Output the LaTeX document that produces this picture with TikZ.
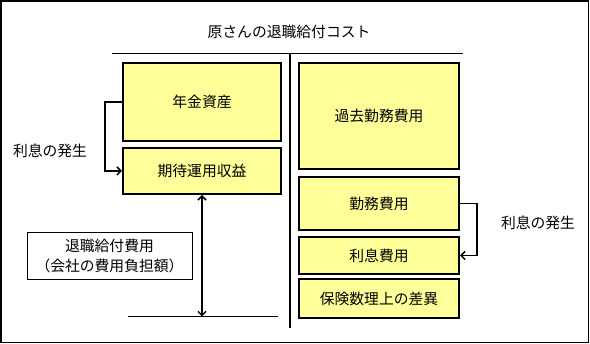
\documentclass[tikz,border=0pt]{standalone}
\usepackage{fontspec}
\setmainfont{Noto Sans CJK JP}
\usetikzlibrary{arrows.meta}
\definecolor{boxyellow}{RGB}{255,255,153}
\tikzset{
  ybox/.style={draw=black, line width=2pt, fill=boxyellow, inner sep=0pt, align=center, font=\fontsize{14.8pt}{20pt}\selectfont},
  lbl/.style={inner sep=0pt, align=center, font=\fontsize{14.8pt}{20pt}\selectfont},
  arr/.style={line width=1.5pt, -{Straight Barb[length=4pt,width=8pt,line width=1.5pt]}},
  darr/.style={line width=1.5pt, {Straight Barb[length=4pt,width=8pt,line width=1.5pt]}-{Straight Barb[length=4pt,width=8pt,line width=1.5pt]}},
}
\begin{document}
\begin{tikzpicture}[x=1pt,y=-1pt]
\useasboundingbox (0,0) rectangle (590,344);
\draw[line width=1.2pt] (1,1) rectangle (588.5,342.5);
\node[lbl] (title) at (289,32) {原さんの退職給付コスト};
% axis lines
\draw[line width=1.8pt] (112,53.5) -- (463,53.5);
\draw[line width=1.8pt] (290,53.5) -- (290,328);
% left boxes
\node[ybox, minimum width=158pt, minimum height=78pt] (nenkin) at (202,102) {年金資産};
\node[ybox, minimum width=158pt, minimum height=46pt] (kitai) at (202,171) {期待運用収益};
% right boxes
\node[ybox, minimum width=160pt, minimum height=106pt] (kako) at (379,116) {過去勤務費用};
\node[ybox, minimum width=160pt, minimum height=53pt] (kinmu) at (379,203.5) {勤務費用};
\node[ybox, minimum width=160pt, minimum height=37pt] (risoku) at (379,255.5) {利息費用};
\node[ybox, minimum width=160pt, minimum height=39pt] (sai) at (379,298.5) {保険数理上の差異};
% label box
\node[lbl, draw=black, line width=0.8pt, minimum width=165pt, minimum height=47pt] (hiyou) at (109.5,255.5) {退職給付費用\\（会社の費用負担額）};
% interest labels
\node[lbl] (rl) at (50,151) {利息の発生};
\node[lbl] (rr) at (538,223) {利息の発生};
% arrows
\draw[arr] (nenkin.west) -- ++(-17,0) |- (kitai.west);
\draw[arr] (kinmu.east) -- ++(17,0) |- (risoku.east);
\coordinate (bot) at (202,316.5);
\draw[darr] (kitai.south) -- (bot);
\coordinate (bl) at (128,316.5);
\coordinate (br) at (278,316.5);
\draw[line width=1.8pt] (bl) -- (br);
\end{tikzpicture}
\end{document}
